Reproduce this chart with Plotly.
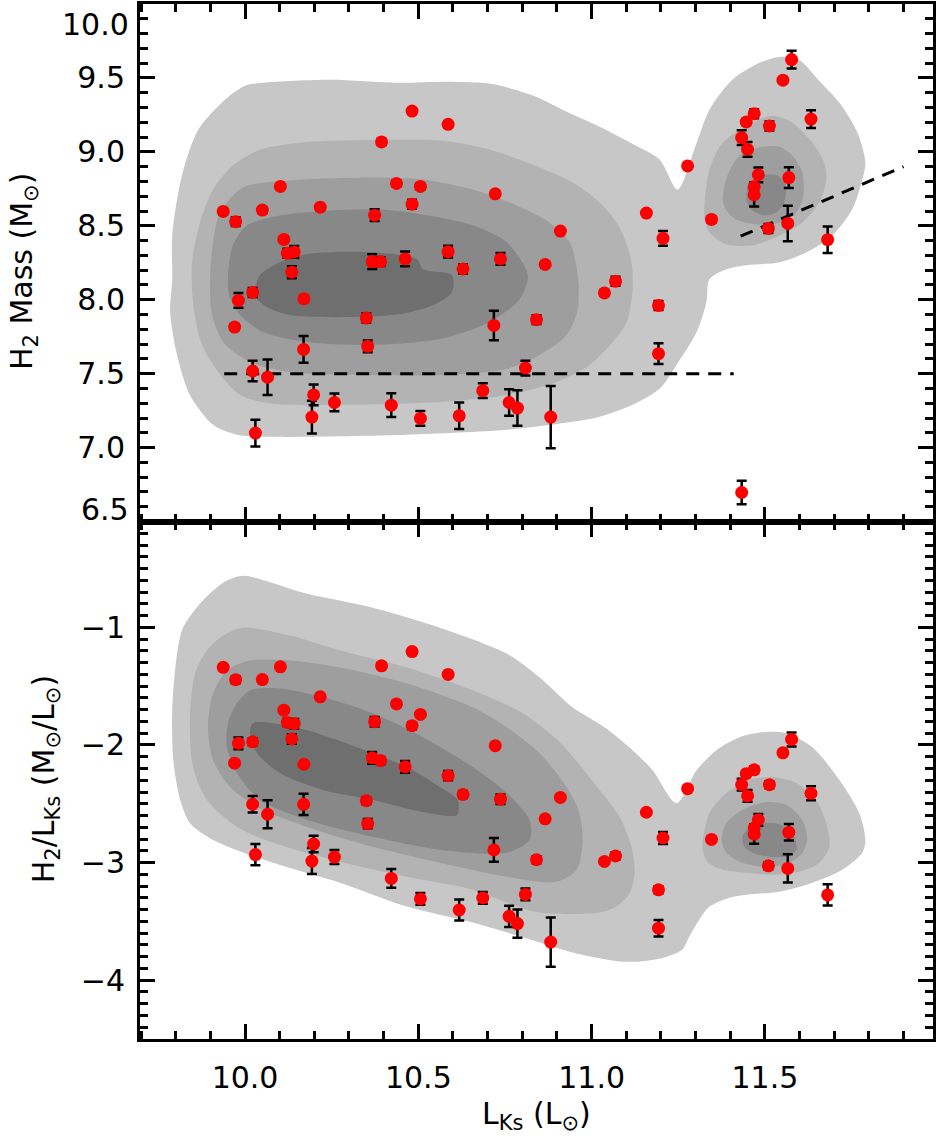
import plotly.graph_objects as go

# ---------------- data ----------------
lks = [10.482, 10.586, 10.394, 10.102, 10.437, 10.506, 10.722, 9.937, 9.973, 10.050,
       10.217, 10.374, 10.482, 10.910, 10.112, 10.122, 10.142, 10.135, 10.367, 10.391,
       10.462, 10.586, 10.629, 10.737, 10.866, 9.981, 10.022, 10.170, 11.037, 11.069,
       9.970, 10.350, 10.841, 10.718, 10.169, 10.354, 10.022, 10.065, 10.809, 10.198,
       10.193, 10.258, 10.422, 10.506, 10.618, 10.686, 10.762, 10.786, 10.882, 10.030,
       11.577, 11.552, 11.469, 11.446, 11.513, 11.633, 11.433, 11.450, 11.277, 11.481,
       11.569, 11.469, 11.469, 11.158, 11.346, 11.206, 11.510, 11.566, 11.681, 11.193,
       11.193, 11.433]
h2_mass = [9.276, 9.186, 9.067, 8.766, 8.786, 8.766, 8.716, 8.597, 8.528, 8.606,
           8.626, 8.572, 8.646, 8.464, 8.408, 8.314, 8.323, 8.186, 8.258, 8.258,
           8.276, 8.325, 8.208, 8.276, 8.238, 7.995, 8.049, 8.006, 8.046, 8.125,
           7.815, 7.876, 7.865, 7.826, 7.664, 7.685, 7.518, 7.476, 7.538, 7.356,
           7.206, 7.305, 7.287, 7.197, 7.215, 7.385, 7.305, 7.267, 7.206, 7.098,
           9.624, 9.485, 9.258, 9.202, 9.175, 9.222, 9.096, 9.017, 8.905, 8.845,
           8.826, 8.764, 8.710, 8.586, 8.543, 8.415, 8.482, 8.516, 8.406, 7.961,
           7.635, 6.696]
h2_err = [0.01, 0.02, 0.02, 0.01, 0.02, 0.02, 0.01, 0.02, 0.03, 0.02,
          0.02, 0.04, 0.03, 0.01, 0.02, 0.03, 0.04, 0.04, 0.05, 0.03,
          0.05, 0.04, 0.03, 0.04, 0.02, 0.05, 0.03, 0.02, 0.02, 0.03,
          0.02, 0.03, 0.03, 0.10, 0.09, 0.04, 0.07, 0.12, 0.05, 0.07,
          0.11, 0.06, 0.08, 0.05, 0.09, 0.05, 0.09, 0.12, 0.21, 0.09,
          0.06, 0.01, 0.03, 0.02, 0.03, 0.06, 0.05, 0.05, 0.01, 0.05,
          0.07, 0.03, 0.08, 0.01, 0.02, 0.05, 0.03, 0.12, 0.09, 0.03,
          0.07, 0.08]
h2_ratio = [-1.206, -1.400, -1.327, -1.336, -1.651, -1.740, -2.006, -1.340, -1.445, -1.444,
            -1.591, -1.802, -1.836, -2.446, -1.704, -1.808, -1.819, -1.949, -2.109, -2.133,
            -2.186, -2.261, -2.421, -2.461, -2.628, -1.986, -1.973, -2.164, -2.991, -2.944,
            -2.155, -2.474, -2.976, -2.892, -2.505, -2.669, -2.504, -2.589, -3.271, -2.842,
            -2.987, -2.953, -3.135, -3.309, -3.403, -3.301, -3.457, -3.519, -3.676, -2.932,
            -1.953, -2.067, -2.211, -2.244, -2.338, -2.411, -2.337, -2.433, -2.372, -2.636,
            -2.743, -2.705, -2.759, -2.572, -2.803, -2.791, -3.028, -3.050, -3.275, -3.232,
            -3.558, -4.737]

limit_x = [9.94, 11.41]
limit_y = [7.5, 7.5]
ratio_line_x = [11.43, 11.90]
ratio_line_y = [8.43, 8.90]

# ---------------- density contours ----------------
top1_x = [9.865, 9.942, 10.000, 10.052, 10.248, 10.441, 10.585, 10.709, 10.833, 10.916,
          11.017, 11.112, 11.196, 11.248, 11.303, 11.340, 11.406, 11.484, 11.542, 11.599,
          11.657, 11.715, 11.767, 11.790, 11.781, 11.752, 11.695, 11.620, 11.542, 11.447,
          11.389, 11.340, 11.331, 11.303, 11.245, 11.196, 11.118, 11.023, 10.945, 10.755,
          10.467, 10.081, 9.977, 9.908, 9.841, 9.804, 9.784, 9.790, 9.790, 9.818]
top1_y = [9.150, 9.352, 9.447, 9.467, 9.487, 9.467, 9.474, 9.460, 9.379, 9.285,
          9.177, 9.062, 8.948, 8.745, 9.062, 9.285, 9.487, 9.602, 9.642, 9.622,
          9.480, 9.332, 9.130, 8.928, 8.813, 8.611, 8.435, 8.321, 8.253, 8.233,
          8.206, 8.139, 7.983, 7.781, 7.559, 7.397, 7.289, 7.208, 7.174, 7.120,
          7.087, 7.073, 7.087, 7.154, 7.356, 7.626, 7.916, 8.139, 8.435, 8.840]
top2_x = [9.965, 10.043, 10.159, 10.274, 10.562, 10.706, 10.830, 10.945, 11.023, 11.081,
          11.115, 11.118, 11.101, 11.061, 10.994, 10.899, 10.755, 10.562, 10.274, 10.081,
          9.986, 9.908, 9.870, 9.850, 9.847, 9.870, 9.908]
top2_y = [8.907, 9.015, 9.062, 9.076, 9.076, 9.015, 8.914, 8.793, 8.658, 8.489,
          8.253, 8.051, 7.849, 7.714, 7.559, 7.444, 7.356, 7.309, 7.289, 7.296,
          7.356, 7.559, 7.734, 7.983, 8.253, 8.523, 8.745]
top3_x = [9.899, 9.905, 9.928, 9.994, 10.130, 10.369, 10.513, 10.657, 10.784, 10.879,
          10.937, 10.960, 10.960, 10.928, 10.850, 10.755, 10.562, 10.369, 10.130, 10.014,
          9.937, 9.905]
top3_y = [8.071, 8.341, 8.591, 8.759, 8.806, 8.826, 8.813, 8.745, 8.638, 8.523,
          8.388, 8.166, 7.936, 7.761, 7.626, 7.532, 7.491, 7.491, 7.511, 7.579,
          7.714, 7.896]
top4_x = [9.951, 9.965, 10.006, 10.101, 10.369, 10.513, 10.657, 10.755, 10.816, 10.793,
          10.706, 10.562, 10.369, 10.179, 10.052, 9.986, 9.954]
top4_y = [8.166, 8.368, 8.503, 8.570, 8.611, 8.577, 8.503, 8.388, 8.166, 8.004,
          7.849, 7.734, 7.694, 7.714, 7.781, 7.896, 8.031]
top5_x = [10.029, 10.043, 10.121, 10.196, 10.369, 10.496, 10.513, 10.597, 10.597, 10.542,
          10.447, 10.274, 10.130, 10.063]
top5_y = [8.031, 8.166, 8.273, 8.314, 8.321, 8.273, 8.206, 8.166, 8.051, 7.963,
          7.903, 7.882, 7.896, 7.950]
topr2_x = [11.326, 11.340, 11.378, 11.447, 11.522, 11.579, 11.637, 11.671, 11.677, 11.657,
           11.608, 11.542, 11.464, 11.389, 11.340, 11.326]
topr2_y = [8.658, 8.880, 9.062, 9.177, 9.244, 9.197, 9.062, 8.928, 8.813, 8.658,
           8.523, 8.435, 8.368, 8.375, 8.455, 8.543]
topr3_x = [11.378, 11.392, 11.427, 11.484, 11.542, 11.579, 11.608, 11.611, 11.591, 11.542,
           11.476, 11.418, 11.389]
topr3_y = [8.678, 8.840, 8.975, 9.029, 9.035, 8.975, 8.860, 8.705, 8.590, 8.523,
           8.509, 8.543, 8.604]
topr4_x = [11.447, 11.455, 11.493, 11.536, 11.559, 11.556, 11.533, 11.499, 11.464]
topr4_y = [8.671, 8.793, 8.840, 8.840, 8.779, 8.658, 8.591, 8.570, 8.604]

bot1_x = [9.994, 10.179, 10.369, 10.562, 10.755, 10.850, 10.945, 11.037, 11.118, 11.176,
          11.245, 11.303, 11.360, 11.427, 11.493, 11.562, 11.637, 11.715, 11.772, 11.790,
          11.781, 11.723, 11.637, 11.542, 11.447, 11.398, 11.340, 11.311, 11.282, 11.262,
          11.210, 11.138, 11.081, 10.945, 10.850, 10.657, 10.467, 10.274, 10.081, 9.908,
          9.841, 9.813, 9.793, 9.790, 9.804, 9.821, 9.870, 9.937]
bot1_y = [-0.562, -0.715, -0.833, -1.003, -1.223, -1.426, -1.680, -1.850, -2.044, -2.214,
          -2.493, -2.214, -2.044, -1.934, -1.892, -1.900, -2.019, -2.298, -2.578, -2.806,
          -2.916, -3.061, -3.171, -3.247, -3.273, -3.298, -3.374, -3.484, -3.628, -3.738,
          -3.806, -3.840, -3.840, -3.764, -3.679, -3.510, -3.374, -3.171, -3.002, -2.807,
          -2.663, -2.468, -2.129, -1.705, -1.223, -1.003, -0.799, -0.621]
bot2_x = [9.994, 10.130, 10.274, 10.467, 10.657, 10.801, 10.908, 11.023, 11.081, 11.115,
          11.124, 11.110, 11.072, 11.023, 10.850, 10.755, 10.657, 10.467, 10.274, 10.081,
          9.977, 9.890, 9.850, 9.841, 9.856, 9.890, 9.937]
bot2_y = [-1.003, -1.070, -1.197, -1.341, -1.535, -1.730, -1.976, -2.383, -2.612, -2.866,
          -3.086, -3.256, -3.374, -3.425, -3.425, -3.340, -3.230, -3.120, -2.993, -2.832,
          -2.697, -2.468, -2.188, -1.790, -1.392, -1.197, -1.070]
bot3_x = [10.014, 10.130, 10.274, 10.467, 10.657, 10.755, 10.850, 10.928, 10.965, 10.974,
          10.957, 10.899, 10.755, 10.562, 10.369, 10.179, 10.035, 9.957, 9.908, 9.893,
          9.908, 9.948]
bot3_y = [-1.282, -1.282, -1.341, -1.477, -1.680, -1.850, -2.070, -2.358, -2.578, -2.832,
          -3.061, -3.163, -3.120, -3.002, -2.866, -2.697, -2.527, -2.358, -2.129, -1.850,
          -1.561, -1.367]
bot4_x = [10.014, 10.101, 10.225, 10.369, 10.513, 10.657, 10.755, 10.821, 10.821, 10.755,
          10.562, 10.369, 10.179, 10.043, 9.977, 9.948, 9.951, 9.977]
bot4_y = [-1.536, -1.519, -1.595, -1.731, -1.934, -2.188, -2.408, -2.637, -2.807, -2.917,
          -2.891, -2.781, -2.637, -2.468, -2.239, -2.019, -1.815, -1.646]
bot5_x = [10.023, 10.081, 10.179, 10.323, 10.467, 10.562, 10.614, 10.611, 10.513, 10.369,
          10.225, 10.101, 10.035, 10.014]
bot5_y = [-1.815, -1.815, -1.875, -2.019, -2.188, -2.358, -2.468, -2.595, -2.570, -2.468,
          -2.383, -2.239, -2.070, -1.900]
botr2_x = [11.320, 11.340, 11.389, 11.455, 11.522, 11.591, 11.648, 11.680, 11.686, 11.657,
           11.599, 11.522, 11.447, 11.378, 11.334]
botr2_y = [-2.866, -2.578, -2.409, -2.298, -2.273, -2.324, -2.468, -2.697, -2.866, -3.002,
           -3.078, -3.103, -3.086, -3.061, -2.993]
botr3_x = [11.375, 11.389, 11.435, 11.504, 11.562, 11.608, 11.622, 11.608, 11.571, 11.504,
           11.435, 11.389]
botr3_y = [-2.806, -2.662, -2.552, -2.485, -2.510, -2.637, -2.806, -2.917, -3.002, -3.036,
           -3.002, -2.917]
botr4_x = [11.435, 11.455, 11.504, 11.548, 11.585, 11.591, 11.562, 11.513, 11.464, 11.441]
botr4_y = [-2.781, -2.705, -2.663, -2.680, -2.781, -2.891, -2.950, -2.950, -2.917, -2.866]

shades = ["#c7c7c7", "#b3b3b3", "#9e9e9e", "#888888", "#6f6f6f"]

x_range = [9.697, 11.985]
top_range = [6.5, 10.0]
bot_range = [-4.5, -0.1]
top_ticks = [7.0, 7.5, 8.0, 8.5, 9.0, 9.5]

FONT = "DejaVu Sans"
FS = 30

fig = go.Figure()


def poly(xs, ys, color, xa, ya):
    fig.add_trace(go.Scatter(
        x=xs + [xs[0]], y=ys + [ys[0]], mode="lines", fill="toself",
        fillcolor=color, line=dict(width=0, color=color, shape="spline", smoothing=0.8),
        hoverinfo="skip", showlegend=False, xaxis=xa, yaxis=ya))


# top panel contours
poly(top1_x, top1_y, shades[0], "x", "y")
poly(top2_x, top2_y, shades[1], "x", "y")
poly(top3_x, top3_y, shades[2], "x", "y")
poly(top4_x, top4_y, shades[3], "x", "y")
poly(top5_x, top5_y, shades[4], "x", "y")
poly(topr2_x, topr2_y, shades[1], "x", "y")
poly(topr3_x, topr3_y, shades[2], "x", "y")
poly(topr4_x, topr4_y, shades[3], "x", "y")
# bottom panel contours
poly(bot1_x, bot1_y, shades[0], "x2", "y2")
poly(bot2_x, bot2_y, shades[1], "x2", "y2")
poly(bot3_x, bot3_y, shades[2], "x2", "y2")
poly(bot4_x, bot4_y, shades[3], "x2", "y2")
poly(bot5_x, bot5_y, shades[4], "x2", "y2")
poly(botr2_x, botr2_y, shades[1], "x2", "y2")
poly(botr3_x, botr3_y, shades[2], "x2", "y2")
poly(botr4_x, botr4_y, shades[3], "x2", "y2")

dash_line = dict(color="black", width=3, dash="13px,9px")
fig.add_trace(go.Scatter(x=limit_x, y=limit_y, mode="lines", line=dash_line,
                         showlegend=False, hoverinfo="skip", xaxis="x", yaxis="y"))
fig.add_trace(go.Scatter(x=ratio_line_x, y=ratio_line_y, mode="lines", line=dash_line,
                         showlegend=False, hoverinfo="skip", xaxis="x", yaxis="y"))

err_style = dict(type="data", array=h2_err, visible=True, color="black", thickness=2.5, width=5)
mk = dict(color="#ff0000", size=13, line=dict(width=0))
fig.add_trace(go.Scatter(x=lks, y=h2_mass, mode="markers", marker=mk, error_y=err_style,
                         showlegend=False, xaxis="x", yaxis="y"))
fig.add_trace(go.Scatter(x=lks, y=h2_ratio, mode="markers", marker=mk, error_y=err_style,
                         showlegend=False, xaxis="x2", yaxis="y2"))

axis_common = dict(showline=True, linecolor="black", linewidth=3, mirror="ticks",
                   ticks="inside", ticklen=15, tickwidth=2.5, tickcolor="black",
                   showgrid=False, zeroline=False,
                   tickfont=dict(family=FONT, size=FS, color="black"))
minor_x = dict(ticks="inside", ticklen=8, tickwidth=2.5, tickcolor="black",
               tickmode="linear", tick0=9.7, dtick=0.1, showgrid=False)

fig.update_layout(
    width=938, height=1138,
    margin=dict(l=140, r=5, t=1, b=99),
    plot_bgcolor="white", paper_bgcolor="white",
    showlegend=False,
    xaxis=dict(axis_common, domain=[0, 1], anchor="y", range=x_range,
               tickmode="linear", tick0=10.0, dtick=0.5, showticklabels=False,
               minor=minor_x),
    yaxis=dict(axis_common, domain=[0.5, 1], anchor="x", range=top_range,
               tickmode="array", tickvals=top_ticks, tickformat=".1f",
               ticklabelstandoff=6,
               minor=dict(ticks="inside", ticklen=8, tickwidth=2.5, tickcolor="black",
                          tickmode="linear", tick0=6.5, dtick=0.1, showgrid=False)),
    xaxis2=dict(axis_common, domain=[0, 1], anchor="y2", range=x_range, matches="x",
                tickmode="linear", tick0=10.0, dtick=0.5, tickformat=".1f",
                ticklabelstandoff=10, minor=minor_x),
    yaxis2=dict(axis_common, domain=[0, 0.5], anchor="x2", range=bot_range,
                tickmode="linear", tick0=-4, dtick=1, ticklabelstandoff=6,
                minor=dict(ticks="inside", ticklen=8, tickwidth=2.5, tickcolor="black",
                           tickmode="linear", tick0=-4.5, dtick=0.1, showgrid=False)),
)

ann_font = dict(family=FONT, size=FS, color="black")
fig.add_annotation(text="10.0", xref="paper", x=0, xanchor="right", xshift=-9,
                   yref="y", y=10.0, yanchor="top", yshift=-1, showarrow=False, font=ann_font)
fig.add_annotation(text="6.5", xref="paper", x=0, xanchor="right", xshift=-9,
                   yref="y", y=6.5, yanchor="middle", yshift=12, showarrow=False, font=ann_font)
fig.add_annotation(text="H<sub>2</sub> Mass (M<sub>⊙</sub>)", textangle=-90,
                   xref="paper", x=0, xanchor="center", xshift=-117,
                   yref="paper", y=0.741, yanchor="middle", showarrow=False, font=ann_font)
fig.add_annotation(text="H<sub>2</sub>/L<sub>Ks</sub> (M<sub>⊙</sub>/L<sub>⊙</sub>)", textangle=-90,
                   xref="paper", x=0, xanchor="center", xshift=-95,
                   yref="paper", y=0.251, yanchor="middle", showarrow=False, font=ann_font)
fig.add_annotation(text="L<sub>Ks</sub> (L<sub>⊙</sub>)",
                   xref="paper", x=0.5, xanchor="center",
                   yref="paper", y=0, yanchor="bottom", yshift=-98, showarrow=False, font=ann_font)

fig.write_html("out.html")
